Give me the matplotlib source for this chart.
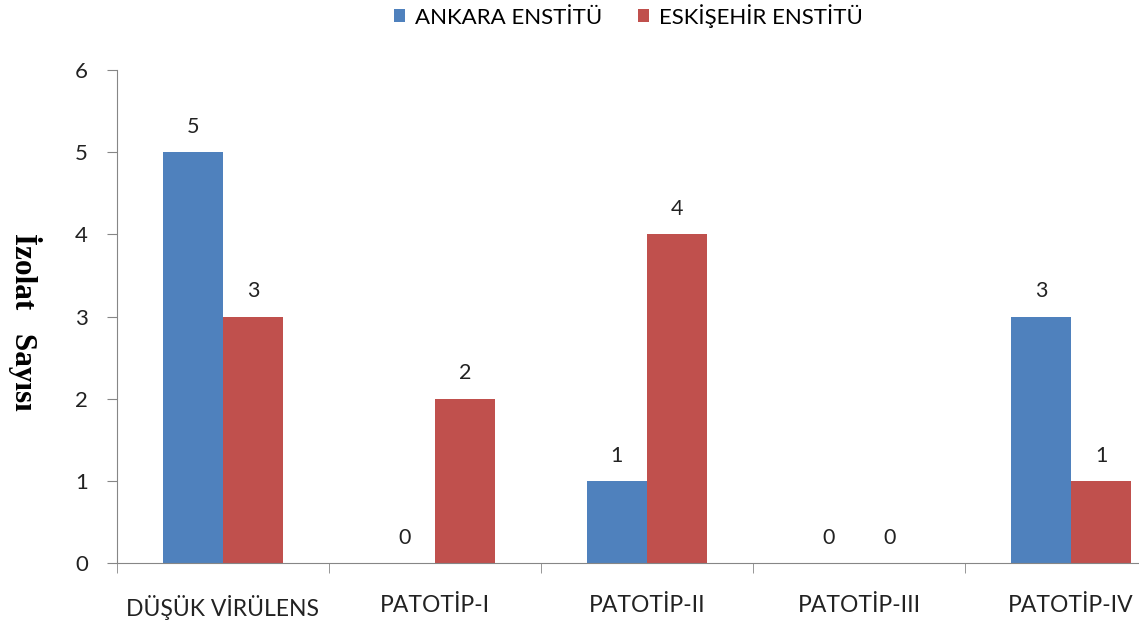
import matplotlib.pyplot as plt
import numpy as np

plt.rcParams['font.family'] = ['Lato', 'DejaVu Sans']

categories = ['DÜŞÜK VİRÜLENS', 'PATOTİP-I', 'PATOTİP-II', 'PATOTİP-III', 'PATOTİP-IV']
ankara = [5, 0, 1, 0, 3]
eskisehir = [3, 2, 4, 0, 1]
series_names = ['ANKARA ENSTİTÜ', 'ESKİŞEHİR ENSTİTÜ']
colors = ['#4F81BD', '#C0504D']
grey = '#868686'

fig = plt.figure(figsize=(11.39, 6.26), dpi=100)
ax = fig.add_axes([0.1027, 0.1006, 0.8973, 0.7876])

x = np.arange(len(categories))
w = 0.284
b1 = ax.bar(x - w / 2, ankara, w, color=colors[0], label=series_names[0])
b2 = ax.bar(x + w / 2, eskisehir, w, color=colors[1], label=series_names[1])

# value labels above bars
for bars, vals in ((b1, ankara), (b2, eskisehir)):
	for rect, v in zip(bars, vals):
		ax.annotate(str(v), (rect.get_x() + rect.get_width() / 2, v),
					textcoords='offset points', xytext=(0, 11),
					ha='center', va='bottom', fontsize=15.5, color='#222222')

ax.set_yticks(range(7))
ax.set_xticks(x)
ax.set_xticklabels(categories, fontsize=16.5, color='#222222')
ax.set_xticks(np.arange(-0.5, len(categories), 1.0), minor=True)
# limits after ticks, the chart is cut off on the right
ax.set_ylim(0, 6)
ax.set_xlim(-0.5, 4.32)
ax.tick_params(axis='x', which='major', length=0, pad=23)
ax.tick_params(axis='x', which='minor', length=7, color=grey, direction='out')
ax.tick_params(axis='y', length=7, color=grey, labelsize=16, labelcolor='#222222', pad=14)

for s in ('top', 'right'):
	ax.spines[s].set_visible(False)
for s in ('left', 'bottom'):
	ax.spines[s].set_color(grey)

fig.text(0.022, 0.486, 'İzolat   Sayısı', rotation=-90, ha='center', va='center',
		 fontsize=22.5, fontweight='bold', family=['Liberation Serif', 'DejaVu Serif'])

fig.legend(handles=[b1, b2], loc='center', bbox_to_anchor=(0.552, 0.975), ncol=2,
		   frameon=False, fontsize=16, handlelength=0.5, handleheight=0.5,
		   handletextpad=0.45, columnspacing=1.6)

fig.savefig('out.png', dpi=100)
